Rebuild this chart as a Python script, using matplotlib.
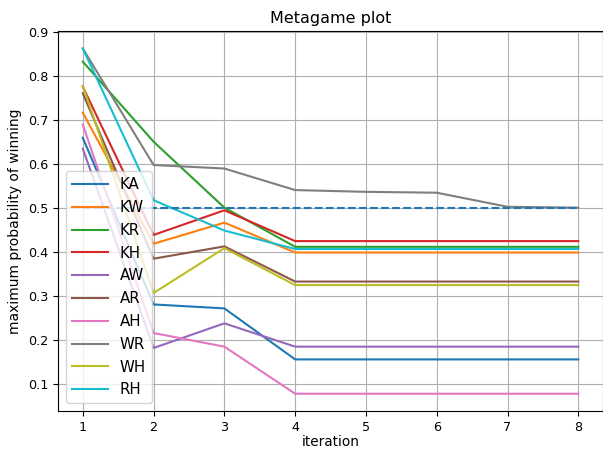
import matplotlib
matplotlib.use("Agg")
import matplotlib.pyplot as plt

# iterations and per-strategy win probabilities
iterations = [1, 2, 3, 4, 5, 6, 7, 8]
names = ["KA", "KW", "KR", "KH", "AW", "AR", "AH", "WR", "WH", "RH"]

KA = [0.659, 0.280, 0.271, 0.155, 0.155, 0.155, 0.155, 0.155]
KW = [0.716, 0.418, 0.466, 0.398, 0.398, 0.398, 0.398, 0.398]
KR = [0.832, 0.650, 0.500, 0.411, 0.411, 0.411, 0.411, 0.411]
KH = [0.775, 0.438, 0.494, 0.424, 0.424, 0.424, 0.424, 0.424]
AW = [0.634, 0.181, 0.237, 0.184, 0.184, 0.184, 0.184, 0.184]
AR = [0.760, 0.384, 0.412, 0.332, 0.332, 0.332, 0.332, 0.332]
AH = [0.689, 0.215, 0.184, 0.077, 0.077, 0.077, 0.077, 0.077]
WR = [0.862, 0.597, 0.589, 0.540, 0.536, 0.534, 0.502, 0.500]
WH = [0.777, 0.306, 0.408, 0.324, 0.324, 0.324, 0.324, 0.324]
RH = [0.862, 0.517, 0.448, 0.406, 0.406, 0.406, 0.406, 0.406]
series = [KA, KW, KR, KH, AW, AR, AH, WR, WH, RH]

baseline = [0.5] * len(iterations)

fig = plt.figure(figsize=(6.03, 4.5), dpi=100)
ax = fig.add_axes([0.0962, 0.0867, 0.904, 0.844])

for name, vals in zip(names, series):
    ax.plot(iterations, vals, label=name, lw=1.5)

ax.plot(iterations, baseline, "--", color="C0", lw=1.5)

ax.grid(True)
ax.set_title("Metagame plot", fontsize=11.5)
ax.set_xlabel("iteration", fontsize=9.8, labelpad=1)
ax.set_ylabel("maximum probability of winning", fontsize=10)
ax.tick_params(labelsize=9.2)
ax.legend(loc="lower left", fontsize=10.8, labelspacing=0.52, handlelength=2.4)

fig.savefig("out.png", dpi=100)
